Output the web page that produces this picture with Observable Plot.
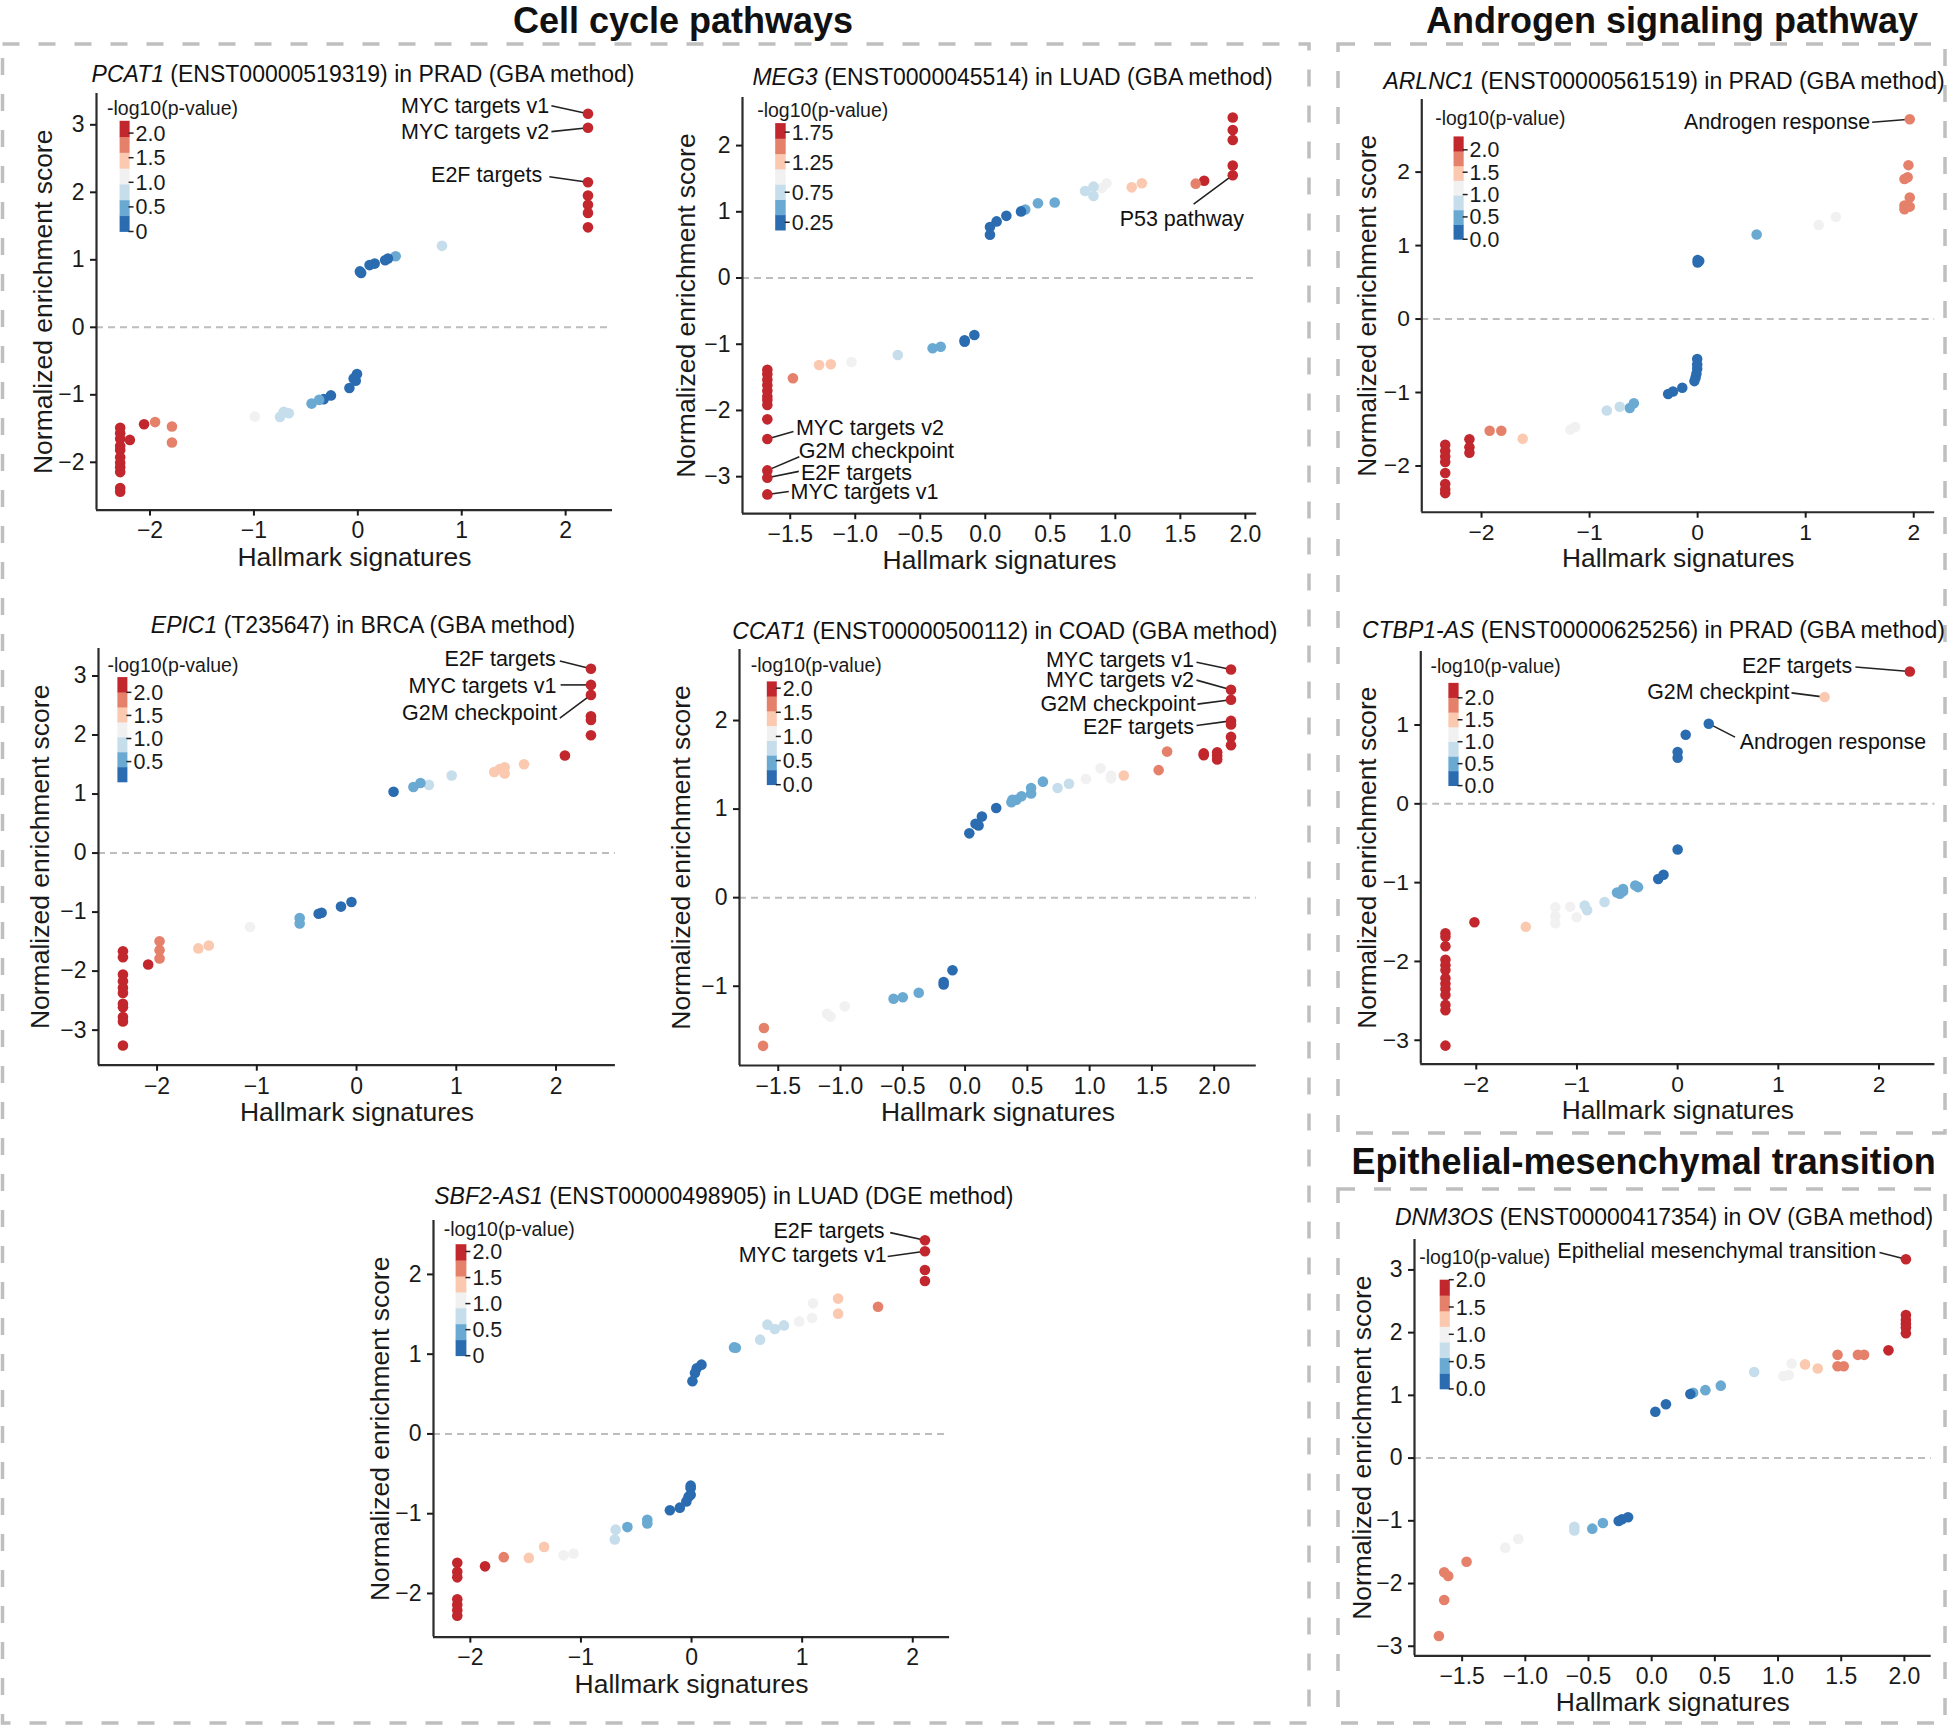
<!DOCTYPE html>
<html>
<head>
<meta charset="utf-8">
<script src="https://cdn.jsdelivr.net/npm/d3@7"></script>
<script src="https://cdn.jsdelivr.net/npm/@observablehq/plot@0.6"></script>
<style>
  html, body { margin: 0; padding: 0; background: #fff; }
  #page { position: relative; width: 1948px; height: 1725px; overflow: hidden; font-family: "Liberation Sans", Arial, Helvetica, sans-serif; color: #111; background: #fff; }
  .sec { position: absolute; font-weight: bold; font-size: 36px; line-height: 1; white-space: nowrap; transform: translate(-50%, -50%); }
  .ttl { position: absolute; font-size: 23px; line-height: 1; white-space: nowrap; transform: translate(-50%, -50%); }
  .pnl { position: absolute; }
  #boxes { position: absolute; left: 0; top: 0; pointer-events: none; }
</style>
</head>
<body>
<div id="page"></div>
<script>
// ---------------- DATA ----------------
const sectionTitles = ["Cell cycle pathways", "Androgen signaling pathway", "Epithelial-mesenchymal transition"];
const xAxisLabel = "Hallmark signatures";
const yAxisLabel = "Normalized enrichment score";
const legendTitle = "-log10(p-value)";
// significance level (bin of -log10 p, 0 = lowest ... 6 = highest)
const LEVELS = [0, 1, 2, 3, 4, 5, 6];

// PCAT1
const pcat1X = [2.215,2.215,2.215,2.215,2.215,2.215,2.215, 0.81,0.364,0.29,0.263,0.162,0.113,0.032,0.02, -0.008,-0.02,-0.04,-0.081, -0.259,-0.328,-0.372,-0.445, -0.664,-0.713,-0.749, -0.992, -1.789,-1.789,-1.951,-2.057,-2.194, -2.287,-2.287,-2.287,-2.287,-2.287,-2.287,-2.287,-2.287,-2.287,-2.287,-2.287];
const pcat1Y = [3.165,2.957,2.15,1.953,1.816,1.695,1.481, 1.207,1.053,1.02,0.993,0.944,0.922,0.806,0.828, -0.691,-0.79,-0.757,-0.9, -1.009,-1.064,-1.075,-1.13, -1.273,-1.25,-1.327, -1.322, -1.47,-1.706,-1.404,-1.437,-1.668, -1.487,-1.569,-1.651,-1.76,-1.816,-1.926,-2.008,-2.073,-2.145,-2.381,-2.436];
const pcat1Lvl = [6,6,6,6,6,6,6, 2,1,0,0,0,0,0,0, 0,0,0,0, 0,0,1,1, 2,2,2, 3, 5,5,5,6,6, 6,6,6,6,6,6,6,6,6,6,6];
const pcat1Labels = ["MYC targets v1", "MYC targets v2", "E2F targets"];
const pcat1LabelIdx = [0, 1, 2];

// MEG3
const meg3X = [1.903,1.903,1.903,1.903,1.903, 1.683,1.618, 1.204,1.126, 0.932,0.896, 0.832,0.832,0.767, 0.534,0.405, 0.307,0.275, 0.162,0.087,0.036,0.036, -0.084,-0.159,-0.159, -0.343,-0.405, -0.673, -1.029, -1.188,-1.278, -1.479, -1.676,-1.676,-1.676,-1.676,-1.676,-1.676,-1.676,-1.676,-1.676,-1.676,-1.676,-1.676,-1.676];
const meg3Y = [2.425,2.235,2.084,1.698,1.553, 1.469,1.425, 1.43,1.369, 1.43,1.358, 1.38,1.24,1.313, 1.14,1.128, 1.034,1.006, 0.939,0.855,0.771,0.654, -0.86,-0.939,-0.961, -1.039,-1.061, -1.162, -1.268, -1.302,-1.313, -1.514, -1.385,-1.453,-1.536,-1.62,-1.704,-1.788,-1.844,-1.916,-2.134,-2.43,-2.905,-3.017,-3.268];
const meg3Lvl = [6,6,6,6,6,6,5,4,4,3,3,2,2,2,1,1,1,0,0,0,0,0,0,0,0,1,1,2,3,4,4,5,6,6,6,6,6,6,6,6,6,6,6,6,6];
const meg3Labels = ["MYC targets v2", "G2M checkpoint", "E2F targets", "MYC targets v1", "P53 pathway"];
const meg3LabelIdx = [41, 42, 43, 44, 4];

// ARLNC1
const arlnc1X = [1.963,1.951,1.944,1.914,1.963,1.914,1.963,1.914, 1.279,1.121, 0.546, 0,0,0.015, -0.004,-0.004,-0.004,-0.011,-0.019,-0.03, -0.142,-0.228,-0.273, -0.59,-0.628, -0.721,-0.841, -1.133,-1.178, -1.619, -1.817,-1.925, -2.112,-2.112,-2.112, -2.336,-2.336,-2.336,-2.336,-2.336,-2.336,-2.336,-2.336];
const arlnc1Y = [2.72,2.095,1.93,1.905,1.655,1.545,1.53,1.495, 1.39,1.28, 1.15, 0.805,0.77,0.79, -0.545,-0.62,-0.675,-0.745,-0.795,-0.845, -0.935,-0.985,-1.02, -1.145,-1.21, -1.195,-1.245, -1.47,-1.505, -1.63, -1.52,-1.52, -1.635,-1.745,-1.82, -1.71,-1.795,-1.87,-1.945,-2.095,-2.245,-2.32,-2.37];
const arlnc1Lvl = [5,5,5,5,5,5,5,5, 3,3, 1, 0,0,0, 0,0,0,0,0,0, 0,0,0, 1,1, 2,2, 3,3, 4, 5,5, 6,6,6, 6,6,6,6,6,6,6,6];
const arlnc1Labels = ["Androgen response"];
const arlnc1LabelIdx = [0];

// EPIC1
const epic1X = [2.35,2.35,2.35,2.35,2.35,2.35, 2.089, 1.679,1.485,1.485,1.435,1.38, 0.954, 0.726,0.641,0.57, 0.371, -0.051,-0.156,-0.35,-0.38, -0.57,-0.57, -1.068, -1.481,-1.586, -1.975,-1.975,-1.975, -2.089, -2.342,-2.342,-2.342,-2.342,-2.342,-2.342,-2.342,-2.342,-2.342,-2.342,-2.342];
const epic1Y = [3.122,2.849,2.68,2.317,2.256,1.996, 1.652, 1.506,1.452,1.349,1.422,1.373, 1.313, 1.155,1.186,1.119, 1.04, -0.829,-0.907,-1.01,-1.028, -1.101,-1.192, -1.252, -1.567,-1.615, -1.494,-1.645,-1.785, -1.887, -1.664,-1.766,-2.057,-2.172,-2.281,-2.371,-2.552,-2.613,-2.777,-2.855,-3.26];
const epic1Lvl = [6,6,6,6,6,6,6, 4,4,4,4,4, 2, 2,1,1, 0, 0,0,0,0, 1,1, 3, 4,4, 5,5,5, 6, 6,6,6,6,6,6,6,6,6,6,6];
const epic1Labels = ["E2F targets", "MYC targets v1", "G2M checkpoint"];
const epic1LabelIdx = [0, 1, 2];

// CCAT1
const ccat1X = [2.135,2.135,2.135,2.135,2.135,2.135,2.135, 2.024,2.024,2.024, 1.916,1.916, 1.622,1.554, 1.274, 1.172,1.172,1.088,0.97, 0.834,0.743, 0.625,0.53,0.53,0.453,0.412,0.372,0.38, 0.25,0.135,0.108,0.084,0.034, -0.101,-0.172,-0.172, -0.372,-0.5,-0.574, -0.966,-1.081,-1.108, -1.615,-1.622];
const ccat1Y = [2.577,2.347,2.234,1.996,1.956,1.815,1.722, 1.641,1.601,1.56, 1.629,1.609, 1.649,1.44, 1.379, 1.379,1.347,1.46,1.339, 1.286,1.238, 1.31,1.238,1.177,1.145,1.105,1.077,1.105, 1.012,0.915,0.815,0.835,0.726, -0.819,-0.952,-0.98, -1.073,-1.125,-1.141, -1.226,-1.343,-1.31, -1.472,-1.673];
const ccat1Lvl = [6,6,6,6,6,6,6, 6,6,6, 6,6, 5,5, 4, 3,3,3,3, 2,2, 1,1,1,1,1,1,1, 0,0,0,0,0, 0,0,0, 1,1,1, 3,3,3, 5,5];
const ccat1Labels = ["MYC targets v1", "MYC targets v2", "G2M checkpoint", "E2F targets"];
const ccat1LabelIdx = [0, 1, 2, 3];

// CTBP1-AS
const ctbp1X = [2.306, 1.46, 0.309, 0.08, 0,0,0, -0.14,-0.193, -0.393,-0.421,-0.542,-0.542,-0.602,-0.574, -0.726,-0.899,-0.923, -1.067,-1.003,-1.215,-1.215,-1.215, -1.508, -2.018, -2.306,-2.306,-2.306,-2.306,-2.306,-2.306,-2.306,-2.306,-2.306,-2.306,-2.306,-2.306,-2.306];
const ctbp1Y = [1.678, 1.354, 1.017, 0.877, 0.657,0.585,-0.58, -0.9,-0.954, -1.057,-1.035,-1.08,-1.111,-1.125,-1.14, -1.246,-1.35,-1.291, -1.305,-1.44,-1.314,-1.426,-1.516, -1.561, -1.502, -1.642,-1.687,-1.808,-1.979,-2.047,-2.11,-2.213,-2.281,-2.348,-2.425,-2.551,-2.618,-3.068];
const ctbp1Lvl = [6, 4, 0, 0, 0,0,0, 0,0, 1,1,1,1,1,1, 2,2,2, 3,3,3,3,3, 4, 6, 6,6,6,6,6,6,6,6,6,6,6,6,6];
const ctbp1Labels = ["E2F targets", "G2M checkpint", "Androgen response"];
const ctbp1LabelIdx = [0, 1, 2];

// SBF2-AS1
const sbf2X = [2.11,2.11,2.11,2.11, 1.686, 1.325,1.325, 1.098,1.09,0.973, 0.835,0.753,0.686,0.62, 0.384,0.4, 0.09,0.047,0.031,0.008, -0.008,-0.008,-0.008,-0.027,-0.047,-0.106,-0.196, -0.4,-0.4,-0.58, -0.686,-0.694, -1.067,-1.157, -1.333,-1.471, -1.698, -1.867, -2.118,-2.118,-2.118,-2.118,-2.118,-2.118,-2.118];
const sbf2Y = [2.428,2.29,2.055,1.917, 1.595, 1.697,1.508, 1.637,1.453,1.411, 1.361,1.315,1.37,1.182, 1.085,1.08, 0.869,0.823,0.763,0.662, -0.648,-0.68,-0.763,-0.786,-0.846,-0.924,-0.956, -1.076,-1.122,-1.168, -1.2,-1.324, -1.499,-1.522, -1.416,-1.554, -1.545, -1.66, -1.614,-1.729,-1.798,-2.074,-2.143,-2.211,-2.28];
const sbf2Lvl = [6,6,6,6, 5, 4,4, 3,3,3, 2,2,2,2, 1,1, 0,0,0,0, 0,0,0,0,0,0,0, 1,1,1, 2,2, 3,3, 4,4, 5, 6, 6,6,6,6,6,6,6];
const sbf2Labels = ["E2F targets", "MYC targets v1"];
const sbf2LabelIdx = [0, 1];

// DNM3OS
const dnm3osX = [2.012, 2.012,2.012,2.012,2.012,2.012, 1.874, 1.681,1.632,1.471,1.52,1.471, 1.314,1.214, 1.108,1.085,1.043, 0.811, 0.547,0.425,0.328, 0.306,0.113,0.029, -0.187,-0.235,-0.261, -0.386,-0.47, -0.612,-0.612, -1.056,-1.159, -1.465, -1.642,-1.61,-1.642, -1.684];
const dnm3osY = [3.17, 2.281,2.202,2.142,2.081,1.99, 1.718, 1.646,1.646,1.646,1.464,1.464, 1.428,1.494, 1.506,1.325,1.307, 1.373, 1.155,1.083,1.041, 1.022,0.859,0.738, -0.944,-0.974,-1.004, -1.034,-1.125, -1.095,-1.155, -1.289,-1.428, -1.652, -1.821,-1.881,-2.263, -2.837];
const dnm3osLvl = [6, 6,6,6,6,6, 6, 5,5,5,5,5, 4,4, 3,3,3, 2, 1,1,1, 0,0,0, 0,0,0, 1,1, 2,2, 3,3, 5, 5,5,5, 5];
const dnm3osLabels = ["Epithelial mesenchymal transition"];
const dnm3osLabelIdx = [0];

// legend tick values & labels
const legTicksA = [0, 0.5, 1, 1.5, 2];
const legLabelsZero = ["0", "0.5", "1.0", "1.5", "2.0"];
const legLabelsZeroDec = ["0.0", "0.5", "1.0", "1.5", "2.0"];
const legTicksMeg3 = [0.25, 0.75, 1.25, 1.75];
const legLabelsMeg3 = ["0.25", "0.75", "1.25", "1.75"];
const legTicksEpic1 = [0.5, 1, 1.5, 2];
const legLabelsEpic1 = ["0.5", "1.0", "1.5", "2.0"];

// ---------------- STYLE / LAYOUT ----------------
const FONT = '"Liberation Sans", Arial, Helvetica, sans-serif';
const PALETTE = ["#2b6cb1", "#69a9d2", "#c6ddec", "#f1f1f1", "#fbc8b0", "#e5806a", "#c1272d"];
const ticksInt = (a, b) => d3.range(a, b + 1);
const ticksHalf = (a, b) => d3.range(Math.round(a * 2), Math.round(b * 2) + 1).map(v => v / 2);

const panels = [
  {gene: "PCAT1", rest: " (ENST00000519319) in PRAD (GBA method)", title: [363, 74],
   x: pcat1X, y: pcat1Y, lvl: pcat1Lvl, labels: pcat1Labels, labelIdx: pcat1LabelIdx,
   annPos: [[1.841, 3.283, 1.863, 3.283, "end"], [1.841, 2.889, 1.863, 2.899, "end"], [1.774, 2.258, 1.843, 2.23, "end"]],
   frame: [96.4, 93.2, 612.4, 509.8], xDomain: [-2.515, 2.451], yDomain: [-2.708, 3.464],
   xTicks: ticksInt(-2, 2), xFmt: "d", yTicks: ticksInt(-2, 3), yTitleDx: -53,
   legRange: [0, 2.25], legTicks: legTicksA, legLabels: legLabelsZero,
   leg: {tx: 11, ty: 15, bx: 23.6, by: 27.8, bw: 10, bh: 110.7}},
  {gene: "MEG3", rest: " (ENST0000045514) in LUAD (GBA method)", title: [1012.6, 77],
   x: meg3X, y: meg3Y, lvl: meg3Lvl, labels: meg3Labels, labelIdx: meg3LabelIdx,
   annPos: [[-1.456, -2.274, -1.475, -2.318, "start"], [-1.434, -2.615, -1.43, -2.70, "start"], [-1.417, -2.944, -1.434, -2.92, "start"], [-1.498, -3.24, -1.511, -3.225, "start"], [1.511, 0.894, 1.602, 1.117, "middle"]],
   frame: [741.8, 96.9, 1256, 513.1], xDomain: [-1.867, 2.087], yDomain: [-3.559, 2.726],
   xTicks: ticksHalf(-1.5, 2), xFmt: ".1f", yTicks: ticksInt(-3, 2), yTitleDx: -56,
   legRange: [0.12, 1.9], legTicks: legTicksMeg3, legLabels: legLabelsMeg3,
   leg: {tx: 15.2, ty: 13.1, bx: 33.2, by: 26.1, bw: 10.5, bh: 107}},
  {gene: "ARLNC1", rest: " (ENST00000561519) in PRAD (GBA method)", title: [1664, 81.4],
   x: arlnc1X, y: arlnc1Y, lvl: arlnc1Lvl, labels: arlnc1Labels, labelIdx: arlnc1LabelIdx,
   annPos: [[1.596, 2.68, 1.615, 2.68, "end"]],
   frame: [1421.9, 99.1, 1938.6, 515], xDomain: [-2.553, 2.194], yDomain: [-2.63, 2.99],
   xTicks: ticksInt(-2, 2), xFmt: "d", yTicks: ticksInt(-2, 2), yTitleDx: -55,
   legRange: [0, 2.3], legTicks: legTicksA, legLabels: legLabelsZeroDec,
   leg: {tx: 14.1, ty: 19.3, bx: 32.5, by: 37.8, bw: 10.2, bh: 103.6}},
  {gene: "EPIC1", rest: " (T235647) in BRCA (GBA method)", title: [363, 624.6],
   x: epic1X, y: epic1Y, lvl: epic1Lvl, labels: epic1Labels, labelIdx: epic1LabelIdx,
   annPos: [[1.996, 3.285, 2.038, 3.255, "end"], [2.004, 2.831, 2.046, 2.849, "end"], [2.013, 2.377, 2.038, 2.287, "end"]],
   frame: [97.6, 647.9, 614.5, 1064.6], xDomain: [-2.587, 2.595], yDomain: [-3.594, 3.466],
   xTicks: ticksInt(-2, 2), xFmt: "d", yTicks: ticksInt(-3, 3), yTitleDx: -57.6,
   legRange: [0.06, 2.33], legTicks: legTicksEpic1, legLabels: legLabelsEpic1,
   leg: {tx: 9.4, ty: 16.7, bx: 19.4, by: 29.1, bw: 10, bh: 104.8}},
  {gene: "CCAT1", rest: " (ENST00000500112) in COAD (GBA method)", title: [1004.8, 631],
   x: ccat1X, y: ccat1Y, lvl: ccat1Lvl, labels: ccat1Labels, labelIdx: ccat1LabelIdx,
   annPos: [[1.838, 2.681, 1.858, 2.657, "end"], [1.838, 2.456, 1.858, 2.456, "end"], [1.851, 2.185, 1.865, 2.185, "end"], [1.838, 1.931, 1.858, 1.944, "end"]],
   frame: [739.2, 648.6, 1256, 1064.6], xDomain: [-1.811, 2.338], yDomain: [-1.895, 2.802],
   xTicks: ticksHalf(-1.5, 2), xFmt: ".1f", yTicks: ticksInt(-1, 2), yTitleDx: -57.6,
   legRange: [0, 2.14], legTicks: legTicksA, legLabels: legLabelsZeroDec,
   leg: {tx: 11.8, ty: 16, bx: 27.8, by: 32.4, bw: 10, bh: 103.3}},
  {gene: "CTBP1-AS", rest: " (ENST00000625256) in PRAD (GBA method)", title: [1653.4, 630],
   x: ctbp1X, y: ctbp1Y, lvl: ctbp1Lvl, labels: ctbp1Labels, labelIdx: ctbp1LabelIdx,
   annPos: [[1.733, 1.745, 1.765, 1.736, "end"], [1.111, 1.417, 1.131, 1.408, "end"], [0.618, 0.778, 0.57, 0.846, "start"]],
   frame: [1420.7, 650.7, 1938.6, 1066.4], xDomain: [-2.551, 2.555], yDomain: [-3.302, 1.934],
   xTicks: ticksInt(-2, 2), xFmt: "d", yTicks: ticksInt(-3, 1), yTitleDx: -53.7,
   legRange: [0, 2.34], legTicks: legTicksA, legLabels: legLabelsZeroDec,
   leg: {tx: 10.3, ty: 15, bx: 28.3, by: 32.2, bw: 10.3, bh: 103.5}},
  {gene: "SBF2-AS1", rest: " (ENST00000498905) in LUAD (DGE method)", title: [723.8, 1195.8],
   x: sbf2X, y: sbf2Y, lvl: sbf2Lvl, labels: sbf2Labels, labelIdx: sbf2LabelIdx,
   annPos: [[1.745, 2.538, 1.796, 2.524, "end"], [1.765, 2.239, 1.773, 2.225, "end"]],
   frame: [433.2, 1220.4, 949.3, 1637], xDomain: [-2.333, 2.333], yDomain: [-2.547, 2.676],
   xTicks: ticksInt(-2, 2), xFmt: "d", yTicks: ticksInt(-2, 2), yTitleDx: -53.3,
   legRange: [0, 2.14], legTicks: legTicksA, legLabels: legLabelsZero,
   leg: {tx: 10.8, ty: 9.6, bx: 22.6, by: 24.2, bw: 10.8, bh: 111.5}},
  {gene: "DNM3OS", rest: " (ENST00000417354) in OV (GBA method)", title: [1664, 1216.5],
   x: dnm3osX, y: dnm3osY, lvl: dnm3osLvl, labels: dnm3osLabels, labelIdx: dnm3osLabelIdx,
   annPos: [[1.777, 3.303, 1.803, 3.279, "end"]],
   frame: [1413.7, 1239.3, 1930.4, 1655.6], xDomain: [-1.877, 2.212], yDomain: [-3.152, 3.485],
   xTicks: ticksHalf(-1.5, 2), xFmt: ".1f", yTicks: ticksInt(-3, 3), yTitleDx: -51.7,
   legRange: [0, 2.0], legTicks: legTicksA, legLabels: legLabelsZeroDec,
   leg: {tx: 5.3, ty: 17.8, bx: 25.7, by: 40.7, bw: 10.1, bh: 109.2}}
];

const sectionPos = [[683, 21], [1672, 21], [1643.6, 1162.3]];
const boxRects = [[2.5, 44, 1309, 1723], [1338, 44, 1945, 1133], [1338, 1189, 1945, 1723]];

// ---------------- RENDER ----------------
const page = document.getElementById("page");

// dashed boxes
const bsvg = d3.select(page).append("svg").attr("id", "boxes").attr("width", 1948).attr("height", 1725);
boxRects.forEach(([x0, y0, x1, y1]) => {
  bsvg.append("rect").attr("x", x0).attr("y", y0).attr("width", x1 - x0).attr("height", y1 - y0)
    .attr("fill", "none").attr("stroke", "#bfbfbf").attr("stroke-width", 3.5).attr("stroke-dasharray", "17 19");
});

// section titles
sectionTitles.forEach((t, i) => {
  const d = document.createElement("div");
  d.className = "sec";
  d.style.left = sectionPos[i][0] + "px";
  d.style.top = sectionPos[i][1] + "px";
  d.textContent = t;
  page.appendChild(d);
});

function buildPanel(cfg) {
  const [L, T, R, B] = cfg.frame;
  const mL = 100, mR = 14, mT = 14, mB = 76;
  const W = R - L + mL + mR, H = B - T + mT + mB;
  const pts = cfg.x.map((x, i) => ({x, y: cfg.y[i], lvl: cfg.lvl[i]}));
  const ann = cfg.labels.map((label, k) => {
    const i = cfg.labelIdx[k];
    const [tx, ty, lx, ly, anchor] = cfg.annPos[k];
    return {label, px: cfg.x[i], py: cfg.y[i], tx, ty, lx, ly, anchor};
  });
  const plot = Plot.plot({
    width: W, height: H,
    marginLeft: mL, marginRight: mR, marginTop: mT, marginBottom: mB,
    style: {fontFamily: FONT, color: "#1a1a1a", background: "transparent", overflow: "visible"},
    x: {domain: cfg.xDomain},
    y: {domain: cfg.yDomain},
    color: {type: "ordinal", domain: LEVELS, range: PALETTE},
    marks: [
      Plot.ruleY([0], {stroke: "#bdbdbd", strokeWidth: 2, strokeDasharray: "7,5"}),
      Plot.ruleX([cfg.xDomain[0]], {stroke: "#2b2b2b", strokeWidth: 2.2}),
      Plot.ruleY([cfg.yDomain[0]], {stroke: "#2b2b2b", strokeWidth: 2.2}),
      Plot.axisX({ticks: cfg.xTicks, tickFormat: cfg.xFmt, tickSize: 6, tickPadding: 6, fontSize: 23, label: null, color: "#1a1a1a", strokeWidth: 2}),
      Plot.axisY({ticks: cfg.yTicks, tickFormat: "d", tickSize: 6, tickPadding: 6, fontSize: 23, label: null, color: "#1a1a1a", strokeWidth: 2}),
      Plot.text([xAxisLabel], {text: d => d, frameAnchor: "bottom", dy: 47, textAnchor: "middle", lineAnchor: "middle", fontSize: 26.5, fill: "#1a1a1a"}),
      Plot.text([yAxisLabel], {text: d => d, frameAnchor: "left", dx: cfg.yTitleDx, rotate: -90, textAnchor: "middle", lineAnchor: "middle", fontSize: 26.5, fill: "#1a1a1a"}),
      Plot.link(ann, {x1: "lx", y1: "ly", x2: "px", y2: "py", stroke: "#222", strokeWidth: 1.6}),
      Plot.dot(pts, {x: "x", y: "y", fill: "lvl", r: 5.3}),
      ...["start", "middle", "end"].map(a => Plot.text(ann.filter(d => d.anchor === a), {
        x: "tx", y: "ty", text: "label", textAnchor: a, lineAnchor: "middle", fontSize: 21.5, fill: "#111"
      }))
    ]
  });

  // color-step legend inside the panel
  const colors = plot.scale("color").range;
  const lg = cfg.leg;
  const [lo, hi] = cfg.legRange;
  const yv = v => lg.by + (hi - v) / (hi - lo) * lg.bh;
  const g = d3.select(plot).append("g").attr("transform", `translate(${mL},${mT})`)
    .attr("font-family", FONT).attr("fill", "#1a1a1a").attr("text-anchor", "start");
  g.append("text").attr("x", lg.tx).attr("y", lg.ty).attr("dy", "0.35em").attr("font-size", 19.5)
    .attr("text-anchor", "start").text(legendTitle);
  const binH = lg.bh / colors.length;
  colors.forEach((c, k) => {
    g.append("rect").attr("x", lg.bx).attr("y", lg.by + (colors.length - 1 - k) * binH)
      .attr("width", lg.bw).attr("height", binH + 0.4).attr("fill", c);
  });
  cfg.legTicks.forEach((v, k) => {
    g.append("line").attr("x1", lg.bx + lg.bw - 1).attr("x2", lg.bx + lg.bw + 4)
      .attr("y1", yv(v)).attr("y2", yv(v)).attr("stroke", "#222").attr("stroke-width", 1.5);
    g.append("text").attr("x", lg.bx + lg.bw + 6).attr("y", yv(v)).attr("dy", "0.35em")
      .attr("text-anchor", "start").attr("font-size", 21.5).text(cfg.legLabels[k]);
  });

  const holder = document.createElement("div");
  holder.className = "pnl";
  holder.style.left = (L - mL) + "px";
  holder.style.top = (T - mT) + "px";
  holder.appendChild(plot);
  page.appendChild(holder);

  const t = document.createElement("div");
  t.className = "ttl";
  t.style.left = cfg.title[0] + "px";
  t.style.top = cfg.title[1] + "px";
  const it = document.createElement("i");
  it.textContent = cfg.gene;
  t.appendChild(it);
  t.appendChild(document.createTextNode(cfg.rest));
  page.appendChild(t);
}

panels.forEach(buildPanel);
</script>
</body>
</html>
